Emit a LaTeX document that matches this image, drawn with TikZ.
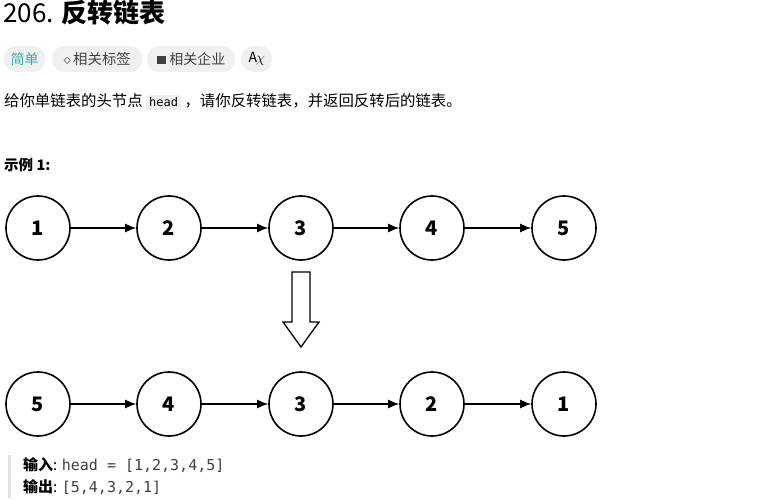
\documentclass[tikz,border=0pt]{standalone}
\usepackage{fontspec}
\usetikzlibrary{arrows.meta}
\setmainfont{Noto Sans CJK SC}
\newfontfamily\monof{DejaVu Sans Mono}
\definecolor{pill}{HTML}{F0F0F0}
\definecolor{teal}{HTML}{2DB5A8}
\definecolor{gtext}{HTML}{404040}
\begin{document}
\begin{tikzpicture}[x=1pt,y=-1pt,
  lnode/.style={circle,draw,line width=1.6pt,minimum size=64pt,inner sep=0pt,font=\fontsize{20}{22}\selectfont\bfseries},
  link/.style={-{Latex[length=11pt,width=9pt]},line width=1.4pt},
  pillbox/.style={fill=pill,rounded corners=12pt,minimum height=26pt,inner sep=4pt,font=\fontsize{14}{16}\selectfont},
  txt/.style={anchor=west,inner sep=0pt}]
\useasboundingbox (0,0) rectangle (771,500);
\node[txt,font=\fontsize{26}{28}\selectfont] (title) at (3,13) {206. \textbf{反转链表}};
\node[pillbox,anchor=west,text=teal,minimum width=41pt] (p1) at (4,59) {简单};
\node[pillbox,anchor=west,text=gtext,minimum width=90pt] (p2) at (52,59) {\Large$\diamond$\,相关标签};
\node[pillbox,anchor=west,text=gtext,minimum width=88pt] (p3) at (147,59) {\rule{9pt}{8pt}\ 相关企业};
\node[pillbox,anchor=west,text=black,minimum width=31pt] (p4) at (241,59) {A\kern-1pt$\chi$};
\node[txt,font=\fontsize{15.4}{17}\selectfont] (desc) at (4,102) {给你单链表的头节点 \colorbox{pill}{\monof\fontsize{12}{14}\selectfont head} ，请你反转链表，并返回反转后的链表。};
\node[txt,font=\fontsize{14.5}{16}\selectfont\bfseries] (ex) at (4,165) {示例 1:};
\foreach \v/\x in {1/38,2/169,3/301,4/432,5/564} \node[lnode] (t\v) at (\x,228) {\v};
\foreach \v/\x in {5/38,4/169,3/301,2/432,1/564} \node[lnode] (b\v) at (\x,404) {\v};
\foreach \a/\b in {1/2,2/3,3/4,4/5} \draw[link] (t\a) -- (t\b);
\foreach \a/\b in {5/4,4/3,3/2,2/1} \draw[link] (b\a) -- (b\b);
\draw[line width=1.3pt,line join=miter] (292,272) -- (310,272) -- (310,322) -- (319,322) -- (301,347) -- (283,322) -- (292,322) -- cycle;
\fill[black!12] (8,455) rectangle (11,498);
\node[txt,font=\fontsize{15}{17}\selectfont] (in) at (23,465) {\textbf{输入}: {\monof\color{gtext}head = [1,2,3,4,5]}};
\node[txt,font=\fontsize{15}{17}\selectfont] (out) at (23,487) {\textbf{输出}: {\monof\color{gtext}[5,4,3,2,1]}};
\end{tikzpicture}
\end{document}
